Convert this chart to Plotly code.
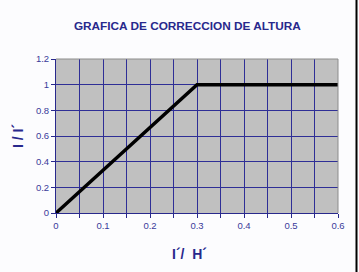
import plotly.graph_objects as go

ratio_x = [0, 0.3, 0.6]
ratio_y = [0, 1, 1]
x_ticks = [0, 0.1, 0.2, 0.3, 0.4, 0.5, 0.6]
y_ticks = [0, 0.2, 0.4, 0.6, 0.8, 1, 1.2]

navy = "#28288c"
grid = "#2e2e96"

fig = go.Figure()
fig.add_trace(go.Scatter(x=ratio_x, y=ratio_y, mode="lines",
                         line=dict(color="black", width=3.5), showlegend=False))

fig.update_layout(
    width=359, height=272,
    margin=dict(l=56, r=21, t=59, b=59),
    paper_bgcolor="#fcfcfe",
    plot_bgcolor="#c0c0c0",
    font=dict(family="Arial, Liberation Sans, sans-serif", color=navy, size=9),
    title=dict(text="<b>GRAFICA DE CORRECCION DE ALTURA</b>", x=0.522, xanchor="center",
               y=0.905, yanchor="middle", font=dict(size=11.8, color=navy)),
)
fig.update_xaxes(range=[0, 0.6], tickvals=x_ticks, ticktext=[str(v) for v in x_ticks],
                 showgrid=True, gridcolor=grid, gridwidth=1,
                 minor=dict(dtick=0.05, tick0=0, showgrid=True, gridcolor=grid, gridwidth=1,
                            ticks="outside", ticklen=4, tickcolor=navy),
                 ticks="outside", ticklen=4, tickcolor=navy,
                 showline=True, linecolor=navy, linewidth=1,
                 zeroline=False, fixedrange=True,
                 tickfont=dict(size=9.5, color="#3a3a9a"))
fig.update_yaxes(range=[0, 1.2], tickvals=y_ticks, ticktext=[str(v) for v in y_ticks],
                 showgrid=True, gridcolor=grid, gridwidth=1,
                 ticks="outside", ticklen=4, tickcolor=navy,
                 showline=True, linecolor=navy, linewidth=1,
                 zeroline=False, fixedrange=True,
                 tickfont=dict(size=9.5, color="#3a3a9a"))
# gray top/right border of plot area
fig.add_shape(type="line", xref="paper", yref="paper", x0=0, x1=1, y0=1, y1=1,
              line=dict(color="#8c8c8c", width=1))
fig.add_shape(type="line", xref="paper", yref="paper", x0=1, x1=1, y0=0, y1=1,
              line=dict(color="#8c8c8c", width=1))
# right black edge
fig.add_shape(type="line", xref="paper", yref="paper", x0=1.0656, x1=1.0656, y0=-0.4, y1=1.4,
              line=dict(color="black", width=2))

fig.add_annotation(text="<b>I / I´</b>", xref="paper", yref="paper",
                   x=-0.17, y=0.5, textangle=-90, showarrow=False,
                   font=dict(size=14, color=navy))
fig.add_annotation(text="<b>I´/  H´</b>", xref="paper", yref="paper",
                   x=0.475, y=-0.33, showarrow=False,
                   font=dict(size=14, color=navy))

fig.write_html("out.html")
